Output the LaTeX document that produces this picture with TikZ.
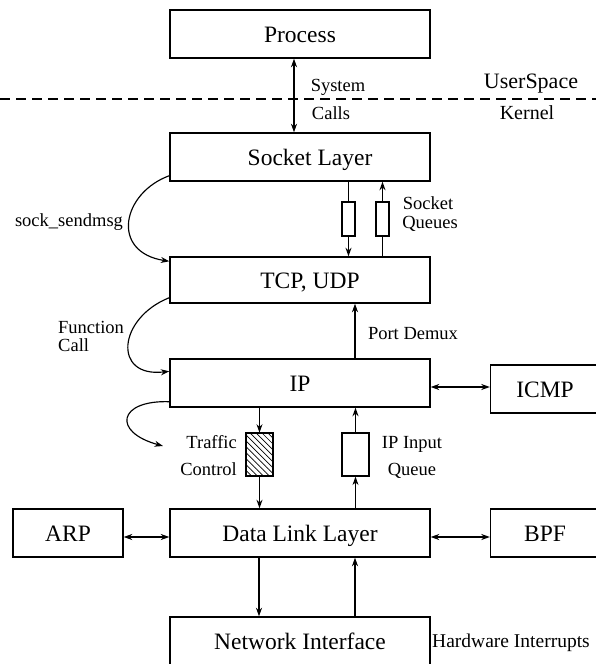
\documentclass[tikz,border=0pt]{standalone}
\usepackage{fontspec}
\setmainfont{Liberation Serif}
\usetikzlibrary{arrows.meta,calc,patterns.meta}

\begin{document}
\begin{tikzpicture}[x=1pt,y=-1pt,
  layer/.style={draw, line width=1.4pt, minimum width=260pt, minimum height=48pt,
    inner sep=0pt, text height=17pt, text depth=0pt, font=\fontsize{23.5}{28}\selectfont},
  side/.style={layer, minimum width=109pt},
  queue/.style={draw, line width=1.2pt, minimum width=13pt, minimum height=34pt, inner sep=0pt},
  tcq/.style={draw, line width=1.2pt, minimum width=27pt, minimum height=43pt, inner sep=0pt},
  small/.style={font=\fontsize{18.5}{22}\selectfont, inner sep=0pt, text height=12pt, text depth=0pt},
  mid/.style={font=\fontsize{20}{24}\selectfont, inner sep=0pt, text height=13pt, text depth=0pt},
  conn/.style={line width=1.15pt},
  arr/.style={conn, -{Stealth[length=8.5pt,width=6pt]}},
  darr/.style={conn, {Stealth[length=8.5pt,width=6pt]}-{Stealth[length=8.5pt,width=6pt]}},
]
\fill[white] (0,0) rectangle (595,664);
\useasboundingbox (0,0) rectangle (595,664);

% main protocol layers
\node[layer] (process) at (300,34)  {Process};
\node[layer] (socket)  at (300,157) {\hspace{20pt}Socket Layer};
\node[layer, minimum height=46pt] (tcp) at (300,280) {\hspace{20pt}TCP, UDP};
\node[layer] (ip)      at (300,383) {IP};
\node[layer] (dll)     at (300,533) {Data Link Layer};
\node[layer] (ni)      at (300,641) {Network Interface};

% side blocks
\node[side] (icmp) at (545,389) {ICMP};
\node[side] (bpf)  at (545,533) {BPF};
\node[side, minimum width=110pt] (arp) at (68,533) {ARP};

% queues
\node[queue] (q1) at (348.5,219) {};
\node[queue] (q2) at (382.5,219) {};
\node[tcq, pattern={Lines[angle=-45,distance=4.2pt,line width=0.7pt]}] (tc) at (259.5,454.5) {};
\node[tcq] (iq) at (355.5,454.5) {};

% user space / kernel boundary
\coordinate (dl) at (0,99);
\coordinate (dr) at (600,99);
\draw[line width=1.2pt, dash pattern=on 10pt off 6pt] (dl) -- (dr);
\node[mid, font=\fontsize{22}{26}\selectfont] (us) at (531,82) {UserSpace};
\node[mid] (kn) at (527,113) {Kernel};

% system calls
\draw[darr] ($(process.south)+(-6,0)$) -- ($(socket.north)+(-6,0)$);
\node[small] (sys) at (338,85) {System};
\node[small] (cal) at (331,113) {Calls};

% socket queues
\draw[conn] (q1.north |- socket.south) -- (q1.north);
\draw[arr] (q1.south) -- (q1.south |- tcp.north);
\draw[conn] (q2.south |- tcp.north) -- (q2.south);
\draw[arr] (q2.north) -- (q2.north |- socket.south);
\node[small] (sq1) at (428,203) {Socket};
\node[small] (sq2) at (430,222) {Queues};

% function-call paths on the left
\draw[arr] ($(socket.south west)+(0,-6)$) .. controls (122,193) and (110,252) .. ($(tcp.north west)+(0,5)$);
\node[small] (ssm) at (69,220) {sock\_sendmsg};
\draw[arr] ($(tcp.south west)+(0,-6)$) .. controls (118,318) and (112,378) .. ($(ip.north west)+(0,13)$);
\node[small, anchor=west] (fc1) at (58,327) {Function};
\node[small, anchor=west] (fc2) at (58,345) {Call};
\coordinate (out) at (163,446);
\draw[arr] ($(ip.south west)+(0,-6)$) .. controls (118,400) and (112,432) .. (out);

% port demux
\draw[arr] ($(ip.north)+(55,0)$) -- ($(tcp.south)+(55,0)$);
\node[small] (pd) at (413,333) {Port Demux};

% IP <-> ICMP
\draw[darr] ($(ip.east)+(0,4)$) -- ($(icmp.west)+(0,-2)$);

% traffic control and IP input queue
\draw[arr] (tc.north |- ip.south) -- (tc.north);
\draw[arr] (tc.south) -- (tc.south |- dll.north);
\node[small, anchor=east] (tc1) at (237,442) {Traffic};
\node[small, anchor=east] (tc2) at (237,469) {Control};
\draw[arr] (iq.south |- dll.north) -- (iq.south);
\draw[arr] (iq.north) -- (iq.north |- ip.south);
\node[small] (iq1) at (412,442) {IP Input};
\node[small] (iq2) at (412,469) {Queue};

% data link neighbours
\draw[darr] ($(arp.east)+(0,4)$) -- ($(dll.west)+(0,4)$);
\draw[darr] ($(dll.east)+(0,4)$) -- ($(bpf.west)+(0,4)$);

% network interface
\draw[arr] ($(dll.south)+(-41,0)$) -- ($(ni.north)+(-41,0)$);
\draw[arr] ($(ni.north)+(55,0)$) -- ($(dll.south)+(55,0)$);
\node[mid, font=\fontsize{19.5}{23}\selectfont] (hw) at (511,641) {Hardware Interrupts};
\end{tikzpicture}
\end{document}
